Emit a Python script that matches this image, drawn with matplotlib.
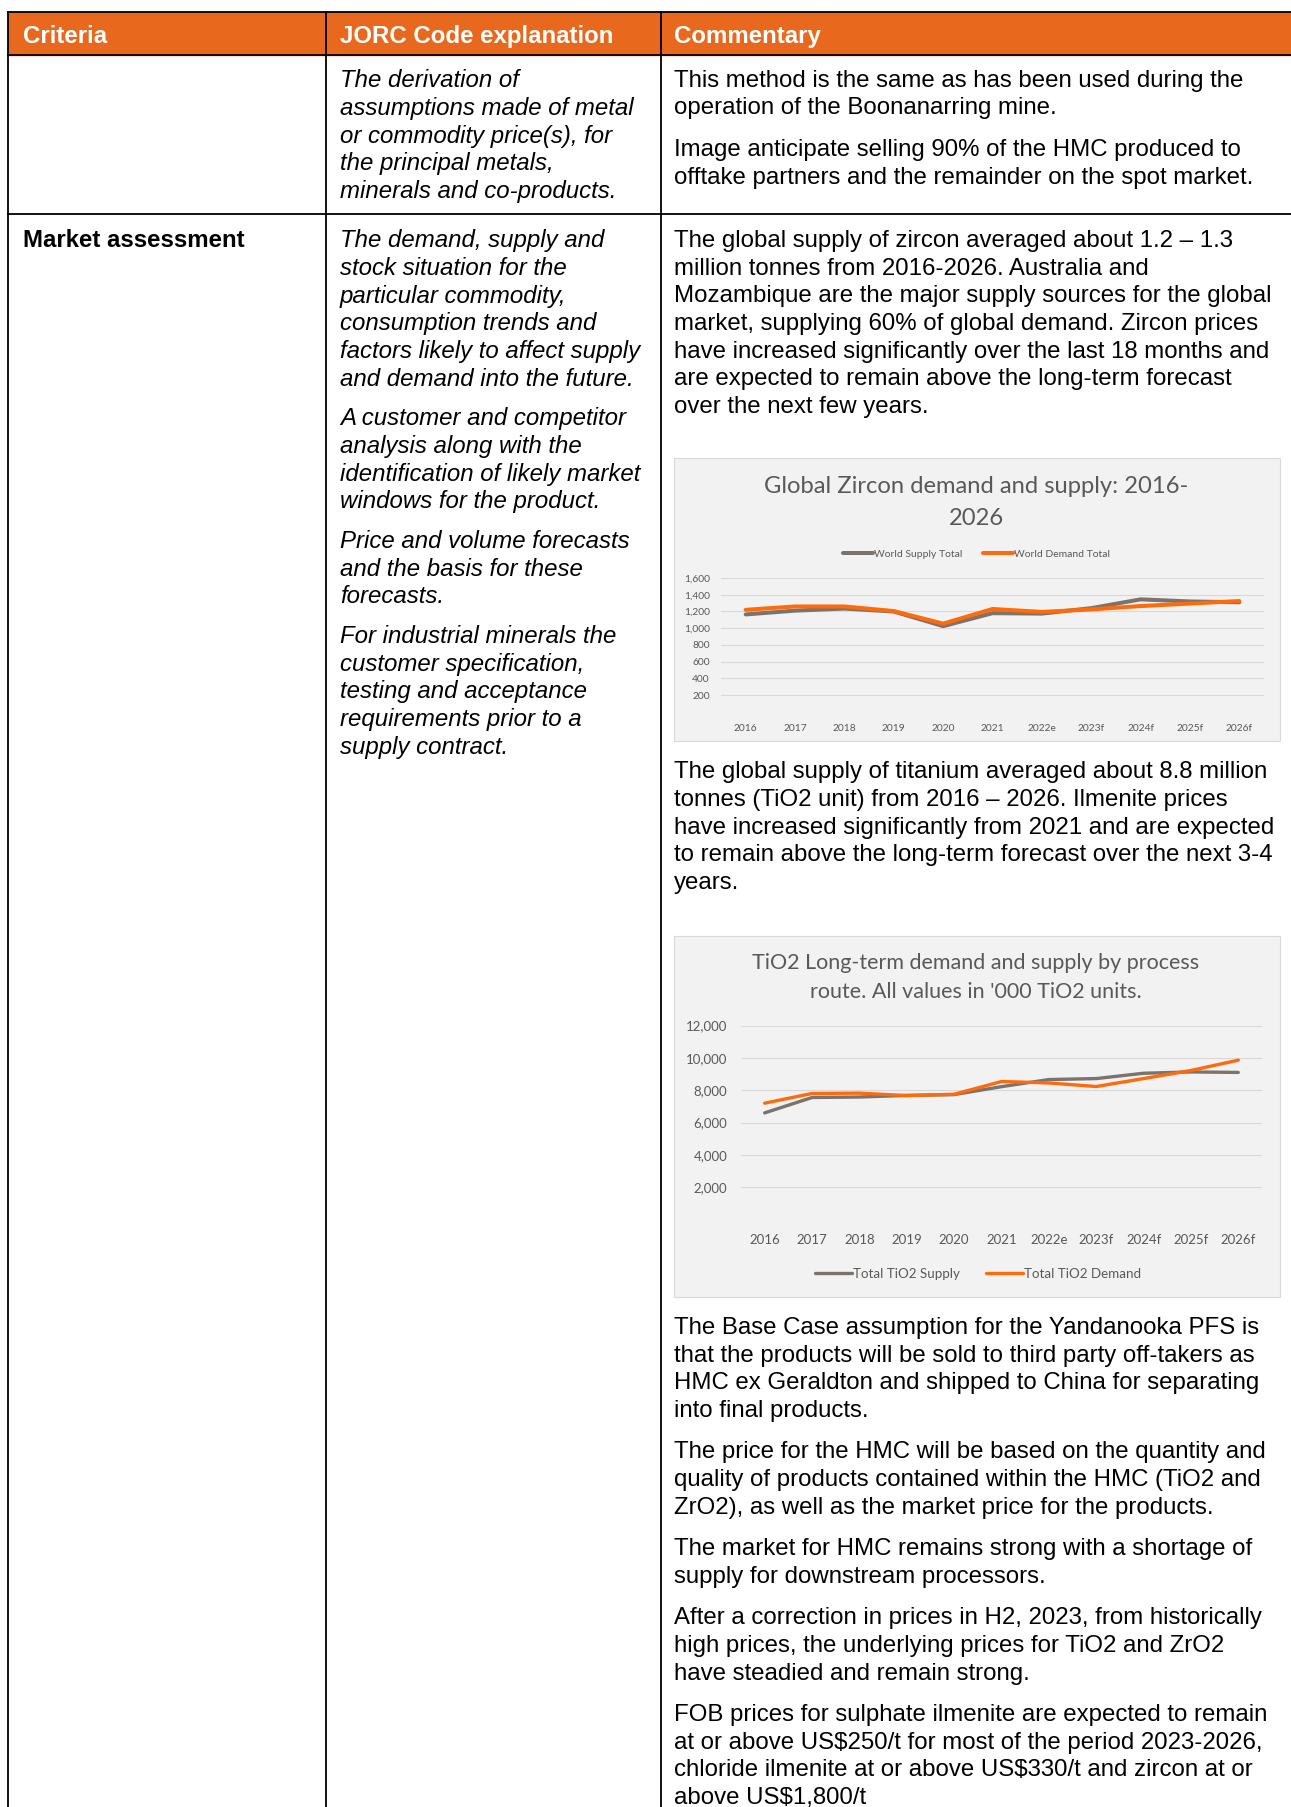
import matplotlib.pyplot as plt
from matplotlib.patches import Rectangle

# page size in pixels
W, H = 1291, 1807
DPI = 100

ORANGE = '#E8691E'
GREY_LINE = '#7B736C'
ORANGE_LINE = '#FF6A0A'
TXT_GREY = '#595959'

# ---- table text ----
headers = ['Criteria', 'JORC Code explanation', 'Commentary']

row1_jorc = [["The derivation of", "assumptions made of metal", "or commodity price(s), for",
              "the principal metals,", "minerals and co-products."]]
row1_comment = [["This method is the same as has been used during the",
                 "operation of the Boonanarring mine."],
                ["Image anticipate selling 90% of the HMC produced to",
                 "offtake partners and the remainder on the spot market."]]

row2_criteria = "Market assessment"
row2_jorc = [["The demand, supply and", "stock situation for the", "particular commodity,",
              "consumption trends and", "factors likely to affect supply",
              "and demand into the future."],
             ["A customer and competitor", "analysis along with the",
              "identification of likely market", "windows for the product."],
             ["Price and volume forecasts", "and the basis for these", "forecasts."],
             ["For industrial minerals the", "customer specification,", "testing and acceptance",
              "requirements prior to a", "supply contract."]]

zircon_text = [["The global supply of zircon averaged about 1.2 \u2013 1.3",
                "million tonnes from 2016-2026. Australia and",
                "Mozambique are the major supply sources for the global",
                "market, supplying 60% of global demand. Zircon prices",
                "have increased significantly over the last 18 months and",
                "are expected to remain above the long-term forecast",
                "over the next few years."]]
titanium_text = [["The global supply of titanium averaged about 8.8 million",
                  "tonnes (TiO2 unit) from 2016 \u2013 2026. Ilmenite prices",
                  "have increased significantly from 2021 and are expected",
                  "to remain above the long-term forecast over the next 3-4",
                  "years."]]
later_text = [["The Base Case assumption for the Yandanooka PFS is",
               "that the products will be sold to third party off-takers as",
               "HMC ex Geraldton and shipped to China for separating",
               "into final products."],
              ["The price for the HMC will be based on the quantity and",
               "quality of products contained within the HMC (TiO2 and",
               "ZrO2), as well as the market price for the products."],
              ["The market for HMC remains strong with a shortage of",
               "supply for downstream processors."],
              ["After a correction in prices in H2, 2023, from historically",
               "high prices, the underlying prices for TiO2 and ZrO2",
               "have steadied and remain strong."],
              ["FOB prices for sulphate ilmenite are expected to remain",
               "at or above US$250/t for most of the period 2023-2026,",
               "chloride ilmenite at or above US$330/t and zircon at or",
               "above US$1,800/t"]]

# ---- chart data ----
years = ['2016', '2017', '2018', '2019', '2020', '2021', '2022e', '2023f', '2024f', '2025f', '2026f']
zircon_supply = [1165, 1210, 1235, 1200, 1025, 1180, 1175, 1240, 1345, 1320, 1310]
zircon_demand = [1220, 1260, 1260, 1205, 1055, 1230, 1195, 1225, 1265, 1295, 1325]
tio2_supply = [6600, 7550, 7580, 7680, 7730, 8220, 8660, 8720, 9050, 9130, 9100]
tio2_demand = [7200, 7800, 7820, 7670, 7750, 8540, 8450, 8230, 8720, 9220, 9860]

BODY = dict(family='Liberation Sans', fontsize=17.3, color='black')
LINE = 27.67
GAP = 13.8
DY = 2.3  # small downward nudge for all text

fig = plt.figure(figsize=(W / DPI, H / DPI), dpi=DPI)
page = fig.add_axes([0, 0, 1, 1])
page.set_xlim(0, W)
page.set_ylim(H, 0)
page.axis('off')


def px_axes(x0, y0, x1, y1):
    return fig.add_axes([x0 / W, 1 - y1 / H, (x1 - x0) / W, (y1 - y0) / H])


def write(x, y, paras, gap=GAP, **kw):
    style = dict(BODY)
    style.update(kw)
    y += DY
    for p in paras:
        for line in p:
            page.text(x, y, line, va='center', ha='left', **style)
            y += LINE
        y += gap
    return y


# table frame
col_x = [8, 326, 660.5]
top, head_bot, row1_bot = 11.5, 55, 214
page.add_patch(Rectangle((col_x[0], top), W - col_x[0], head_bot - top, color=ORANGE, zorder=0))
lw = 1.3
page.plot([col_x[0], W], [top, top], color='black', lw=lw)
page.plot([col_x[0], W], [head_bot, head_bot], color='black', lw=lw)
page.plot([col_x[0], W], [row1_bot, row1_bot], color='black', lw=lw)
for cx in col_x:
    page.plot([cx, cx], [top, H], color='black', lw=lw)

text_x = [23, 340, 674]
for tx, h in zip(text_x, headers):
    page.text(tx, 34.6 + DY, h, va='center', ha='left', family='Liberation Sans',
              fontsize=17.3, fontweight='bold', color='white')

write(text_x[1], 78.4, row1_jorc, style='italic')
write(text_x[2], 78.4, row1_comment)

page.text(text_x[0], 238.6 + DY, row2_criteria, va='center', ha='left', family='Liberation Sans',
          fontsize=17.3, fontweight='bold')
write(text_x[1], 238.6, row2_jorc, gap=12.0, style='italic')
write(text_x[2], 238.6, zircon_text)
write(text_x[2], 770, titanium_text)
write(text_x[2], 1325.6, later_text)

# chart backgrounds
for (by0, by1) in [(457.6, 741), (936, 1297)]:
    page.add_patch(Rectangle((674, by0), 1279.5 - 674, by1 - by0, facecolor='#F2F2F2',
                             edgecolor='#D9D9D9', lw=0.8, zorder=0))


def style_chart(ax, ymax, step, fs, xpad, ypad):
    ax.set_facecolor('none')
    for s in ax.spines.values():
        s.set_visible(False)
    ticks = list(range(0, ymax + 1, step))
    ax.set_yticks(ticks)
    ax.set_yticklabels([''] + [f'{t:,}' for t in ticks[1:]])
    ax.set_ylim(0, ymax)
    ax.set_xlim(-0.5, len(years) - 0.5)
    ax.set_xticks(range(len(years)))
    ax.set_xticklabels(years)
    ax.grid(axis='y', color='#D9D9D9', lw=0.8)
    ax.set_axisbelow(True)
    ax.tick_params(axis='x', length=0, pad=xpad, labelsize=fs, labelcolor=TXT_GREY)
    ax.tick_params(axis='y', length=0, pad=ypad, labelsize=fs, labelcolor=TXT_GREY)
    for lab in ax.get_xticklabels() + ax.get_yticklabels():
        lab.set_family('Lato')


# chart 1: zircon
ax1 = px_axes(721, 578, 1264, 712)
x = range(len(years))
ax1.plot(x, zircon_supply, color=GREY_LINE, lw=2.9, label='World Supply Total', solid_capstyle='round')
ax1.plot(x, zircon_demand, color=ORANGE_LINE, lw=2.9, label='World Demand Total', solid_capstyle='round')
style_chart(ax1, 1600, 200, 7.4, 9, 8)
page.text(976, 486.5, 'Global Zircon demand and supply: 2016-', ha='center', va='center',
          family='Lato', fontsize=17.1, color=TXT_GREY)
page.text(976, 518.5, '2026', ha='center', va='center', family='Lato', fontsize=17.1, color=TXT_GREY)
ax1.legend(loc='center', bbox_to_anchor=(976.5 / W, 1 - 554 / H), bbox_transform=fig.transFigure,
           ncol=2, frameon=False, handlelength=2.9, handletextpad=0.1, columnspacing=1.9,
           prop={'family': 'Lato', 'size': 7.5}, labelcolor=TXT_GREY)

# chart 2: TiO2
ax2 = px_axes(741, 1025.5, 1262, 1219.7)
ax2.plot(x, tio2_supply, color=GREY_LINE, lw=2.4, label='Total TiO2 Supply', solid_capstyle='round')
ax2.plot(x, tio2_demand, color=ORANGE_LINE, lw=2.4, label='Total TiO2 Demand', solid_capstyle='round')
style_chart(ax2, 12000, 2000, 9.5, 10.5, 10)
page.text(976, 963.3, 'TiO2 Long-term demand and supply by process', ha='center', va='center',
          family='Lato', fontsize=15.5, color=TXT_GREY)
page.text(976, 992.3, "route. All values in '000 TiO2 units.", ha='center', va='center',
          family='Lato', fontsize=15.5, color=TXT_GREY)
ax2.legend(loc='center', bbox_to_anchor=(978 / W, 1 - 1273.8 / H), bbox_transform=fig.transFigure,
           ncol=2, frameon=False, handlelength=2.8, handletextpad=0.1, columnspacing=1.9,
           prop={'family': 'Lato', 'size': 9.6}, labelcolor=TXT_GREY)

fig.savefig('out.png', dpi=DPI)
